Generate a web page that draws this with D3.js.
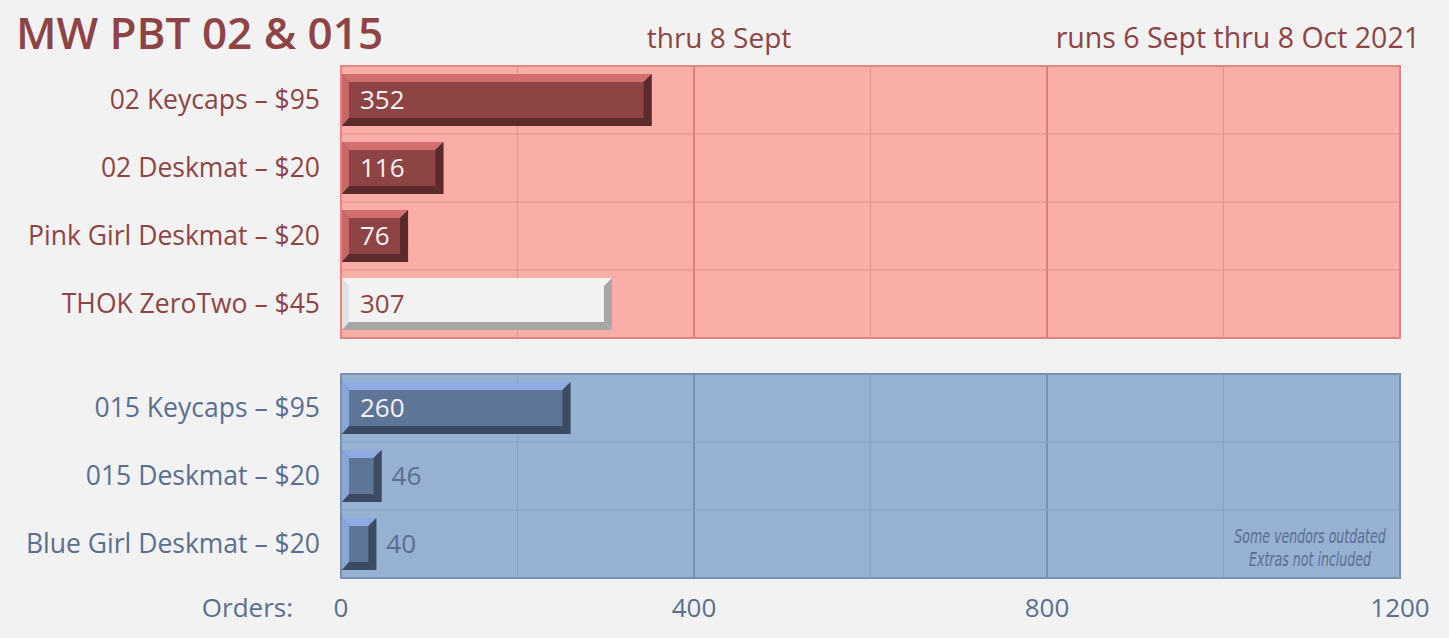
<!DOCTYPE html>
<html>
<head>
<meta charset="utf-8">
<script src="https://cdn.jsdelivr.net/npm/d3@7"></script>
<style>
  body { margin: 0; background: #f2f2f2; }
  svg { font-family: "Open Sans", "Noto Sans", sans-serif; }
</style>
</head>
<body>
<svg id="chart" width="1449" height="638"></svg>
<script>
const redItems = ['02 Keycaps – $95', '02 Deskmat – $20', 'Pink Girl Deskmat – $20', 'THOK ZeroTwo – $45'];
const redValues = [352, 116, 76, 307];
const blueItems = ['015 Keycaps – $95', '015 Deskmat – $20', 'Blue Girl Deskmat – $20'];
const blueValues = [260, 46, 40];
const ticks = [0, 400, 800, 1200];
const minorTicks = [200, 600, 1000];

const red = { bg: '#fbaea8', border: '#e0857f', grid: '#e3918b', major: '#d98079', text: '#8e4444',
  face: '#8e4444', top: '#d36f6f', left: '#c96767', dark: '#5b2a2a', inner: '#f2f2f2' };
const blue = { bg: '#97b1d3', border: '#7890b2', grid: '#85a0c4', major: '#7990b2', text: '#5a6e91',
  face: '#5f7598', top: '#8eaade', left: '#8aa5d6', dark: '#3c4a63', inner: '#f2f2f2' };
const thok = { face: '#f2f2f2', top: '#f2f2f2', left: '#e2e2e2', dark: '#a6a6a6', inner: '#8e4444' };

const svg = d3.select('#chart');
const x = d3.scaleLinear().domain([0, 1200]).range([341, 1400]);

function panel(items, values, top, pal, styleFor) {
  const y = d3.scaleBand().domain(d3.range(items.length))
    .range([top, top + 68 * items.length]).paddingInner(0).paddingOuter(0);
  const g = svg.append('g');
  g.append('rect').attr('x', x(0)).attr('y', top).attr('width', x(1200) - x(0))
    .attr('height', 68 * items.length).attr('fill', pal.bg);
  g.selectAll('line.minor').data(minorTicks).join('line')
    .attr('x1', d => x(d)).attr('x2', d => x(d)).attr('y1', top).attr('y2', top + 68 * items.length)
    .attr('stroke', pal.grid).attr('stroke-width', 1);
  g.selectAll('line.major').data(ticks.slice(1, -1)).join('line')
    .attr('x1', d => x(d)).attr('x2', d => x(d)).attr('y1', top).attr('y2', top + 68 * items.length)
    .attr('stroke', pal.major).attr('stroke-width', 2);
  g.selectAll('line.row').data(d3.range(1, items.length)).join('line')
    .attr('x1', x(0)).attr('x2', x(1200)).attr('y1', d => y(d)).attr('y2', d => y(d))
    .attr('stroke', pal.grid).attr('stroke-width', 1);
  g.append('rect').attr('x', x(0)).attr('y', top).attr('width', x(1200) - x(0))
    .attr('height', 68 * items.length).attr('fill', 'none').attr('stroke', pal.border).attr('stroke-width', 2);

  const pad = 8, b = 8, bl = 7;
  items.forEach((name, i) => {
    const s = styleFor(i);
    const x0 = x(0) + 1, x1 = x(values[i]), y0 = y(i) + pad, y1 = y(i) + y.bandwidth() - pad;
    const bar = g.append('g');
    bar.append('rect').attr('x', x0).attr('y', y0).attr('width', x1 - x0).attr('height', y1 - y0).attr('fill', s.face);
    bar.append('polygon').attr('fill', s.top)
      .attr('points', [[x0, y0], [x1, y0], [x1 - b, y0 + b], [x0 + bl, y0 + b]].join(' '));
    bar.append('polygon').attr('fill', s.left)
      .attr('points', [[x0, y0], [x0 + bl, y0 + b], [x0 + bl, y1 - b], [x0, y1]].join(' '));
    bar.append('polygon').attr('fill', s.dark)
      .attr('points', [[x1, y0], [x1, y1], [x1 - b, y1 - b], [x1 - b, y0 + b]].join(' '));
    bar.append('polygon').attr('fill', s.dark)
      .attr('points', [[x0, y1], [x1, y1], [x1 - b, y1 - b], [x0 + bl, y1 - b]].join(' '));

    const inside = x1 - x0 > 60;
    g.append('text')
      .attr('x', inside ? x0 + 18 : x1 + 10)
      .attr('y', y(i) + y.bandwidth() / 2 + 9)
      .attr('font-size', 26)
      .attr('fill', inside ? s.inner : pal.text)
      .text(values[i]);

    g.append('text')
      .attr('x', 320).attr('y', y(i) + y.bandwidth() / 2 + 8.5)
      .attr('text-anchor', 'end').attr('font-size', 26.5).attr('fill', pal.text)
      .text(name);
  });
}

panel(redItems, redValues, 66, red, i => (i === 3 ? thok : red));
panel(blueItems, blueValues, 374, blue, () => blue);

// title and notes
svg.append('text').attr('x', 16).attr('y', 49).attr('font-size', 44).attr('font-weight', 600)
  .attr('fill', '#8e4444').text('MW PBT 02 & 015');
svg.append('text').attr('x', 719).attr('y', 48).attr('font-size', 28).attr('text-anchor', 'middle')
  .attr('fill', '#8e4444').text('thru 8 Sept');
svg.append('text').attr('x', 1420).attr('y', 48).attr('font-size', 28.5).attr('text-anchor', 'end')
  .attr('fill', '#8e4444').text('runs 6 Sept thru 8 Oct 2021');

// x axis labels
svg.selectAll('text.tick').data(ticks).join('text')
  .attr('x', d => x(d)).attr('y', 617).attr('text-anchor', 'middle')
  .attr('font-size', 26).attr('fill', '#5a6e91').text(d => d);
svg.append('text').attr('x', 293).attr('y', 617).attr('text-anchor', 'end')
  .attr('font-size', 26).attr('fill', '#5a6e91').text('Orders:');

// footnote
const note = svg.append('g').attr('transform', 'translate(1310,0) scale(0.7,1.05)')
  .append('text').attr('text-anchor', 'middle').attr('font-size', 18)
  .attr('font-style', 'italic').attr('fill', '#5a6e91')
  .style('font-family', '"DejaVu Sans", sans-serif');
note.append('tspan').attr('x', 0).attr('y', 517).text('Some vendors outdated');
note.append('tspan').attr('x', 0).attr('y', 539).text('Extras not included');
</script>
</body>
</html>
